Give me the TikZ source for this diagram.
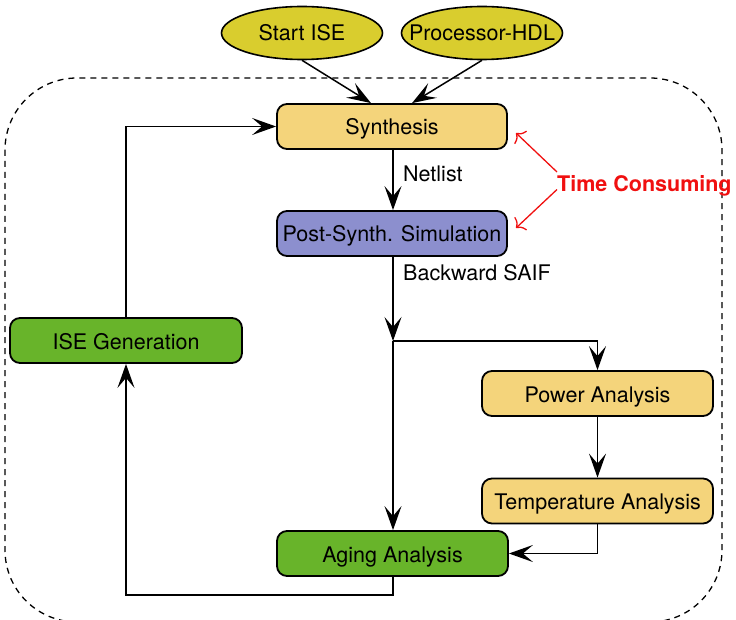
\documentclass[tikz,border=0pt]{standalone}
\usepackage{fontspec}
\setmainfont{TeX Gyre Heros}
\usetikzlibrary{arrows.meta,shapes.geometric}
\definecolor{ellfill}{HTML}{D9CD2E}
\definecolor{yelfill}{HTML}{F4D47B}
\definecolor{purfill}{HTML}{8C8FCE}
\definecolor{grnfill}{HTML}{68B42A}
\definecolor{tcred}{HTML}{F01010}
\begin{document}
\begin{tikzpicture}[x=1pt,y=-1pt,
  txt/.style={font=\fontsize{21.5}{25}\selectfont},
  box/.style={txt, draw, line width=1.8pt, rounded corners=10pt, minimum width=230pt, minimum height=45pt, inner sep=0pt, text height=20pt, text depth=3pt},
  ov/.style={txt, ellipse, draw, line width=1.6pt, fill=ellfill, minimum width=161pt, minimum height=53pt, inner sep=0pt, text height=19pt, text depth=3.5pt},
  conn/.style={line width=1.5pt, -{Stealth[length=24pt,width=17pt,inset=10pt]}},
  lbl/.style={txt, anchor=base west, inner sep=0pt},
  redarr/.style={tcred, line width=1.3pt, -{To[length=7pt,width=18pt]}}
]
\useasboundingbox (0,0) rectangle (736,620);

\draw[dashed, dash pattern=on 6pt off 5pt, line width=1.3pt, rounded corners=72pt] (5,78) rectangle (722,622);

\node[ov] (start) at (302,33) {\makebox[0pt]{Start ISE}};
\node[ov] (proc) at (482,33) {\makebox[0pt]{Processor-HDL}};

\node[box, fill=yelfill] (synth) at (392,126.5) {Synthesis};
\node[box, fill=purfill] (post) at (392,233.5) {Post-Synth. Simulation};
\node[box, fill=grnfill, minimum width=232pt] (isegen) at (126,340.5) {ISE Generation};
\node[box, fill=yelfill, minimum width=231pt] (power) at (597.5,393.5) {Power Analysis};
\node[box, fill=yelfill, minimum width=231pt] (temp) at (597.5,501) {Temperature Analysis};
\node[box, fill=grnfill, minimum width=231pt] (aging) at (392.5,553.5) {Aging Analysis};

\coordinate (j) at (393,341);

\draw[conn] (start.south) -- ([xshift=-21pt]synth.north);
\draw[conn] (proc.south) -- ([xshift=20pt]synth.north);
\draw[conn] (synth.south -| j) -- (post.north -| j);
\node[lbl] (netl) at (403,182) {Netlist};
\draw[conn] (post.south -| j) -- (j);
\node[lbl] (saif) at (403,280) {Backward SAIF};
\draw[conn] (j) -- (aging.north -| j);
\draw[conn] (j) -| (power.north);
\draw[conn] (power) -- (temp);
\draw[conn] (temp.south) |- (aging.east);
\draw[conn] (aging.south -| j) -- ++(0,18) -| (isegen.south);
\draw[conn] (isegen.north) |- (synth.west);

\node[lbl, text=tcred, font=\fontsize{21.5}{25}\selectfont\bfseries] (tc) at (557,191.5) {Time Consuming};
\coordinate (r1) at (516,133);
\coordinate (r2) at (516,228);
\draw[redarr] ([yshift=19.5pt]tc.base west) -- (r1);
\draw[redarr] ([yshift=2pt]tc.base west) -- (r2);
\end{tikzpicture}
\end{document}
